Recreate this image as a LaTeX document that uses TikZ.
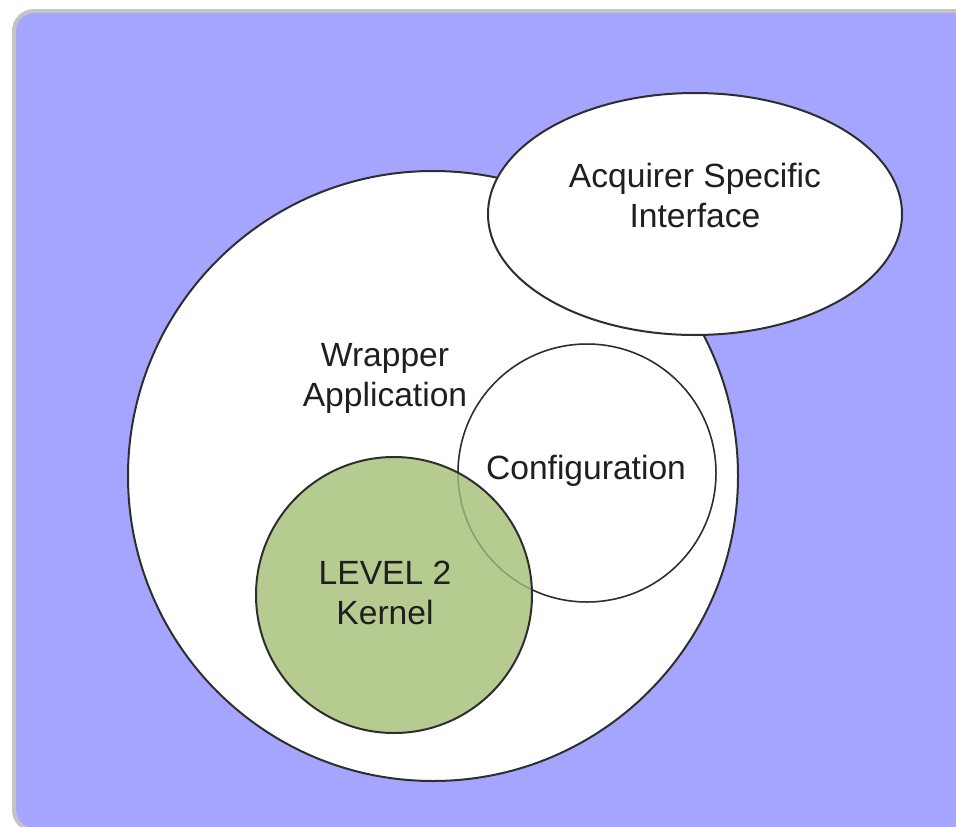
\documentclass[tikz,border=0pt]{standalone}
\usepackage{fontspec}
\setmainfont{Liberation Sans}
\usetikzlibrary{shapes.geometric}
\definecolor{bgblue}{HTML}{A5A5FF}
\definecolor{bordergray}{HTML}{C4C4C4}
\definecolor{kerngreen}{HTML}{B6CB8F}
\definecolor{outline}{HTML}{2E2E2E}
\begin{document}
\begin{tikzpicture}[x=1pt,y=-1pt,
  shapeline/.style={draw=outline,line width=2pt,fill=white,inner sep=0pt},
  lbl/.style={font=\fontsize{33.6}{40}\selectfont,align=center,text=black!88,inner sep=0pt}]
\useasboundingbox (0,0) rectangle (956,827);
\path[draw=bordergray,line width=4pt,fill=bgblue,rounded corners=20pt] (14,11) rectangle (1000,830);
\node[shapeline,circle,minimum size=610pt] (wrap) at (433,476) {};
\node[shapeline,ellipse,minimum width=414pt,minimum height=242pt] (acq) at (695,214) {};
\node[shapeline,circle,line width=1.5pt,minimum size=258pt] (conf) at (587,473) {};
\node[shapeline,circle,fill=kerngreen,minimum size=276pt] (kern) at (394,595) {};
\draw[outline,line width=1.5pt,draw opacity=0.3] (conf) circle[radius=129pt];
\node[lbl] (acqt) at (695,195) {Acquirer Specific\\Interface};
\node[lbl] (wrapt) at (385,378) {Wrapper\\Application};
\node[lbl] (conft) at (586,471) {Configuration};
\node[lbl] (kernt) at (385,593) {LEVEL 2\\Kernel};
\end{tikzpicture}
\end{document}
